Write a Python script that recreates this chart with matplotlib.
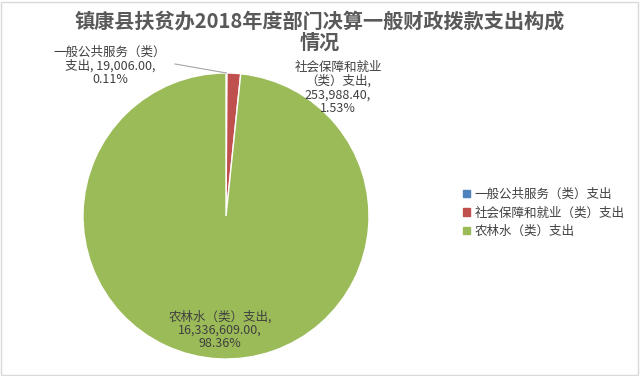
import matplotlib
matplotlib.use("Agg")
import matplotlib.pyplot as plt
import numpy as np

plt.rcParams['font.family'] = ['Noto Sans CJK SC', 'DejaVu Sans']

categories = ["一般公共服务（类）支出", "社会保障和就业（类）支出", "农林水（类）支出"]
values = [19006.00, 253988.40, 16336609.00]
colors = ["#4F81BD", "#C0504D", "#9BBB59"]
title_lines = ["镇康县扶贫办2018年度部门决算一般财政拨款支出构成", "情况"]

W, H = 640, 376
fig = plt.figure(figsize=(W / 100, H / 100), dpi=100)

# light border round the chart area
fig.patches.append(plt.Rectangle((0.002, 0.003), 0.995, 0.993, transform=fig.transFigure,
                                 fill=False, edgecolor="#D9D9D9", linewidth=1))

cx, cy, r = 226, 216, 143
ax = fig.add_axes([(cx - r) / W, (H - cy - r) / H, 2 * r / W, 2 * r / H])
wedges, _ = ax.pie(values, colors=colors, startangle=90, counterclock=False, radius=1,
                   wedgeprops=dict(edgecolor="white", linewidth=1))
ax.set_xlim(-1, 1)
ax.set_ylim(-1, 1)
ax.set_aspect("equal")
ax.axis("off")

total = sum(values)
pct = [v / total * 100 for v in values]

def fmt(v):
    return f"{v:,.2f}"

txt_kw = dict(fontsize=9, color="#404040", ha="center", va="center", linespacing=1.05)
fig.text(110 / W, 1 - 66 / H, f"一般公共服务（类）\n支出, {fmt(values[0])},\n{pct[0]:.2f}%", **txt_kw)
fig.text(338 / W, 1 - 88 / H, f"社会保障和就业\n（类）支出,\n{fmt(values[1])},\n{pct[1]:.2f}%", **txt_kw)
fig.text(220 / W, 1 - 330 / H, f"农林水（类）支出,\n{fmt(values[2])},\n{pct[2]:.2f}%", **txt_kw)

# leader line for the tiny slice
ang = np.deg2rad(90 - pct[0] * 3.6 / 2)
ax.plot([np.cos(ang) * 1.0, (175 - cx) / r], [np.sin(ang) * 1.0, (cy - 64) / r],
        color="#A6A6A6", linewidth=0.8, clip_on=False)

# title, one text per line
for line, ty in zip(title_lines, [21, 42]):
    fig.text(0.5, 1 - ty / H, line, ha="center", va="center", fontsize=14.5,
             fontweight="bold", color="#595959")

handles = [plt.Rectangle((0, 0), 1, 1, color=c) for c in colors]
fig.legend(handles, categories, loc="center left", bbox_to_anchor=(452 / W, 1 - 213 / H),
           frameon=False, fontsize=9, handlelength=0.55, handleheight=0.55,
           handletextpad=0.35, labelspacing=0.45, labelcolor="#404040")

fig.savefig("out.png", dpi=100)
